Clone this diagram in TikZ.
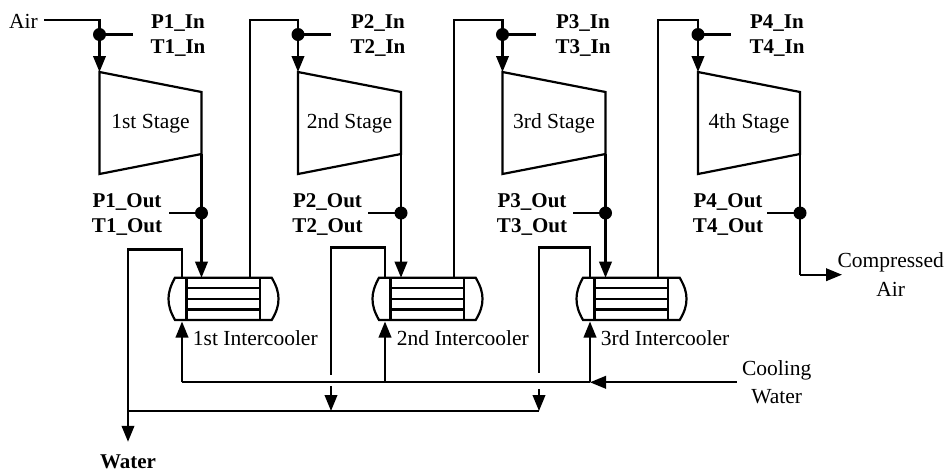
\documentclass[tikz,border=0pt]{standalone}
\usepackage{fontspec}
\setmainfont{Liberation Serif}
\usetikzlibrary{arrows.meta}
\tikzset{
  pipe/.style={line width=2.2pt,line join=miter},
  flow/.style={pipe,-{Triangle[length=16pt,width=12.5pt]}},
  dotmark/.style={circle,fill=black,inner sep=0pt,minimum size=13pt},
  txt/.style={font=\fontsize{21.5pt}{24pt}\selectfont,inner sep=0pt},
  btxt/.style={font=\fontsize{21pt}{24pt}\selectfont\bfseries,inner sep=0pt},
  lbl/.style={txt,anchor=west}
}
\begin{document}
\begin{tikzpicture}[x=1pt,y=-1pt]
\useasboundingbox (0,0) rectangle (946,472);
\fill[white] (0,0) rectangle (946,472);
% stages: index / left x / right x / In-label x / Out-label x / ordinal
\foreach \i/\l/\r/\inx/\outx/\ord in {1/99.5/201.5/178/127/1st,2/298/401/378/327.5/2nd,3/502.5/605.5/583/532/3rd,4/698/800/777/728/4th}{
  \coordinate (tl\i) at (\l,72);
  \coordinate (tr\i) at (\r,92);
  \coordinate (br\i) at (\r,154);
  \coordinate (bl\i) at (\l,174);
  \draw[pipe] (tl\i) -- (tr\i) -- (br\i) -- (bl\i) -- cycle;
  \node[txt] (stage\i) at ({(\l+\r)/2},123.5) {\ord{} Stage};
  \node[dotmark] (din\i) at (\l,34.5) {};
  \node[dotmark] (dout\i) at (\r,213) {};
  \coordinate (instub\i) at (\l+33,34.5);
  \coordinate (outstub\i) at (\r-33,213);
  \draw[pipe] (din\i.center) -- (instub\i);
  \draw[pipe] (dout\i.center) -- (outstub\i);
  \draw[flow] (din\i.center) -- (tl\i);
  \draw[pipe] (br\i) -- (dout\i.center);
  \node[btxt] (pin\i) at (\inx,23) {P\i\_In};
  \node[btxt] (tin\i) at (\inx,48) {T\i\_In};
  \node[btxt] (pout\i) at (\outx,202) {P\i\_Out};
  \node[btxt] (tout\i) at (\outx,227) {T\i\_Out};
}
% intercoolers: index / offset / hot-in x / hot-out x / ordinal
\foreach \i/\o/\hin/\hout/\ord in {1/0/201.5/250/1st,2/204/401/454/2nd,3/408/605.5/658/3rd}{
  \coordinate (a\i) at (175+\o,277.7);
  \coordinate (b\i) at (271.7+\o,277.7);
  \coordinate (c\i) at (271.7+\o,320);
  \coordinate (d\i) at (175+\o,320);
  \draw[pipe] (a\i) -- (b\i) .. controls (276.5+\o,286) and (278.5+\o,292) .. (278.5+\o,298.8)
     .. controls (278.5+\o,306) and (276.5+\o,312) .. (c\i) -- (d\i)
     .. controls (170.5+\o,312) and (168.5+\o,306) .. (168.5+\o,298.8)
     .. controls (168.5+\o,292) and (170.5+\o,286) .. (a\i) -- cycle;
  \coordinate (sl\i t) at (186.5+\o,277.7);
  \coordinate (sl\i b) at (186.5+\o,320);
  \coordinate (sr\i t) at (260+\o,277.7);
  \coordinate (sr\i b) at (260+\o,320);
  \draw[pipe] (sl\i t) -- (sl\i b);
  \draw[pipe] (sr\i t) -- (sr\i b);
  \foreach \y [count=\k] in {288,298.8,309.5}{
    \coordinate (tubeL\i\k) at (186.5+\o,\y);
    \coordinate (tubeR\i\k) at (260+\o,\y);
    \draw[pipe] (tubeL\i\k) -- (tubeR\i\k);
  }
  \coordinate (hotin\i) at (\hin,277.7);
  \coordinate (hotout\i) at (\hout,277.7);
  \coordinate (hottop\i) at (\hout,20);
  \draw[flow] (dout\i.center) -- (hotin\i);
  \node[lbl] (ic\i) at (192.7+\o,338) {\ord{} Intercooler};
}
% air in and hot gas across
\node[txt] (air) at (23.5,21) {Air};
\coordinate (airtop) at (99.5,20);
\coordinate (airstart) at (44,20);
\draw[pipe] (airstart) -- (airtop) -- (din1.center);
\coordinate (top2) at (298,20);
\coordinate (top3) at (502.5,20);
\coordinate (top4) at (698,20);
\draw[pipe] (hotout1) -- (hottop1) -- (top2) -- (din2.center);
\draw[pipe] (hotout2) -- (hottop2) -- (top3) -- (din3.center);
\draw[pipe] (hotout3) -- (hottop3) -- (top4) -- (din4.center);
% compressed air
\coordinate (cacorner) at (800,274.7);
\coordinate (caend) at (842,274.7);
\draw[pipe] (dout4.center) -- (cacorner);
\draw[flow] (cacorner) -- (caend);
\node[txt] (ca1) at (890.7,262.5) {Compressed};
\node[txt] (ca2) at (890.7,289) {Air};
% cooling water
\coordinate (cwstart) at (736.7,382.3);
\coordinate (cwtip) at (590,382.3);
\coordinate (cw3) at (590,321.5);
\coordinate (cw2) at (385,321.5);
\coordinate (cw1) at (182,321.5);
\coordinate (cwj2) at (385,382.3);
\coordinate (cwj1) at (182,382.3);
\draw[flow] (cwstart) -- (cwtip);
\draw[pipe] (cwtip) -- (cwj1);
\draw[flow] (cwj1) -- (cw1);
\draw[flow] (cwj2) -- (cw2);
\draw[flow] (cwtip) -- (cw3);
\node[txt] (cwl1) at (776.7,370) {Cooling};
\node[txt] (cwl2) at (776.7,396.5) {Water};
% water return
\coordinate (r0) at (128,411);
\coordinate (r1) at (331,411);
\coordinate (r2) at (539,411);
\coordinate (w1a) at (182,277.7);
\coordinate (w1b) at (182,249.5);
\coordinate (w1c) at (128,249.5);
\coordinate (w1d) at (128,441.8);
\draw[pipe] (w1a) -- (w1b) -- (w1c) -- (r0);
\draw[flow] (r0) -- (w1d);
\coordinate (w2a) at (385,277.7);
\coordinate (w2b) at (385,247.5);
\coordinate (w2c) at (331,247.5);
\coordinate (w2d) at (331,375);
\draw[pipe] (w2a) -- (w2b) -- (w2c) -- (w2d);
\coordinate (w3a) at (590,277.7);
\coordinate (w3b) at (590,247.5);
\coordinate (w3c) at (539,247.5);
\coordinate (w3d) at (539,373);
\draw[pipe] (w3a) -- (w3b) -- (w3c) -- (w3d);
\draw[pipe] (r0) -- (r2);
\coordinate (a2s) at (331,386);
\coordinate (a3s) at (539,389);
\draw[flow] (a2s) -- (r1);
\draw[flow] (a3s) -- (r2);
\node[btxt] (water) at (128,461.5) {Water};
\end{tikzpicture}
\end{document}
